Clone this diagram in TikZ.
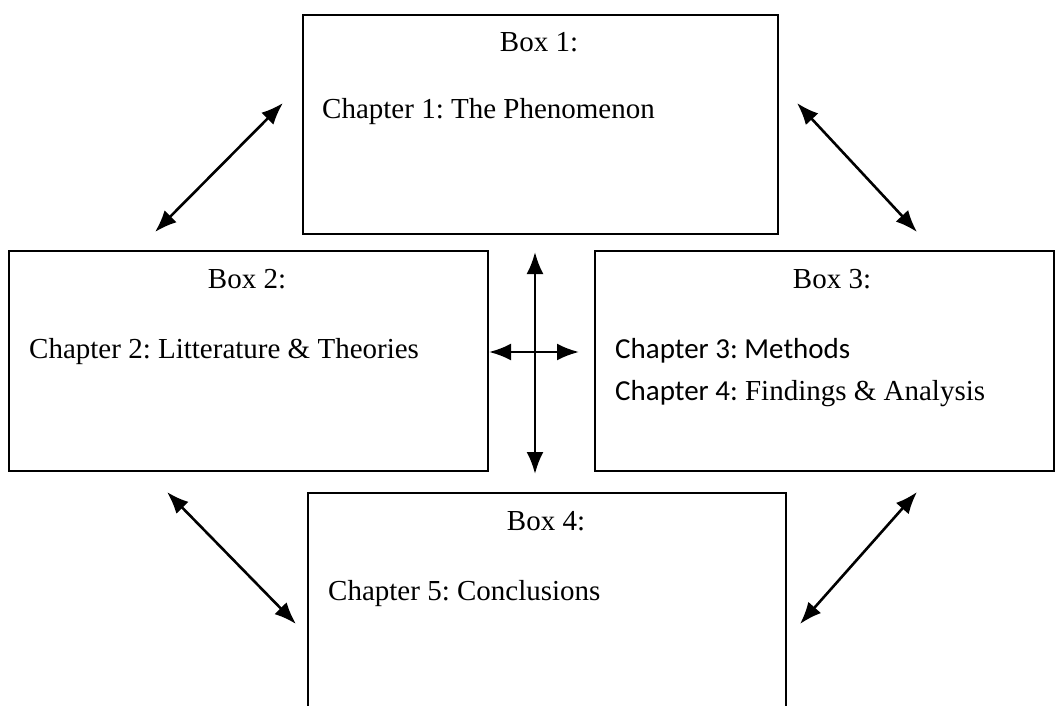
\documentclass[tikz,border=0pt]{standalone}
\usepackage{fontspec}
\setmainfont{Liberation Serif}
\newfontfamily\calibri{Carlito}
\usetikzlibrary{arrows.meta}
\tikzset{>={Latex[length=22pt,width=17pt]}}
\tikzset{
  chbox/.style={draw,line width=1.8pt,anchor=north west,inner sep=0pt},
  boxtitle/.style={anchor=base,inner sep=0pt,font=\fontsize{29}{35}\selectfont},
  chtext/.style={anchor=base west,inner sep=0pt,font=\fontsize{29}{35}\selectfont},
  link/.style={<->,line width=2.6pt}
}
\frenchspacing

\begin{document}
\begin{tikzpicture}[x=1pt,y=-1pt]
    \useasboundingbox (0,0) rectangle (1062,706);
    \clip (0,0) rectangle (1062,706);
    % the four boxes
    \node[chbox,minimum width=475pt,minimum height=219pt] (box1) at (302,14) {};
    \node[chbox,minimum width=479pt,minimum height=220pt] (box2) at (8,250) {};
    \node[chbox,minimum width=459pt,minimum height=220pt] (box3) at (594,250) {};
    \node[chbox,minimum width=478pt,minimum height=300pt] (box4) at (307,492) {};
    % texts
    \node[boxtitle] (title1) at (539,52) {Box 1:};
    \node[chtext] (chap1) at (322,118) {Chapter 1: The Phenomenon};
    \node[boxtitle] (title2) at (247,288) {Box 2:};
    \node[chtext] (chap2) at (29,358) {Chapter 2: Litterature \& Theories};
    \node[boxtitle] (title3) at (832,288) {Box 3:};
    \node[chtext] (chap3) at (615,358) {\calibri Chapter 3: Methods};
    \node[chtext] (chap4) at (615,400) {{\calibri Chapter 4:} Findings \& Analysis};
    \node[boxtitle] (title4) at (546,530) {Box 4:};
    \node[chtext] (chap5) at (328,600) {Chapter 5: Conclusions};
    % arrow ends
    \coordinate (ul1) at (283,103); \coordinate (ul2) at (155,232);
    \coordinate (ur1) at (797,103); \coordinate (ur2) at (917,232);
    \coordinate (ll1) at (167,492); \coordinate (ll2) at (296,624);
    \coordinate (lr1) at (917,492); \coordinate (lr2) at (800,624);
    \coordinate (vt) at (535,252); \coordinate (vb) at (535,474);
    \coordinate (hl) at (489,352); \coordinate (hr) at (579,352);
    % arrows
    \draw[link] (ul1) -- (ul2);
    \draw[link] (ur1) -- (ur2);
    \draw[link] (ll1) -- (ll2);
    \draw[link] (lr1) -- (lr2);
    \draw[link] (vt) -- (vb);
    \draw[link] (hl) -- (hr);
\end{tikzpicture}
\end{document}
